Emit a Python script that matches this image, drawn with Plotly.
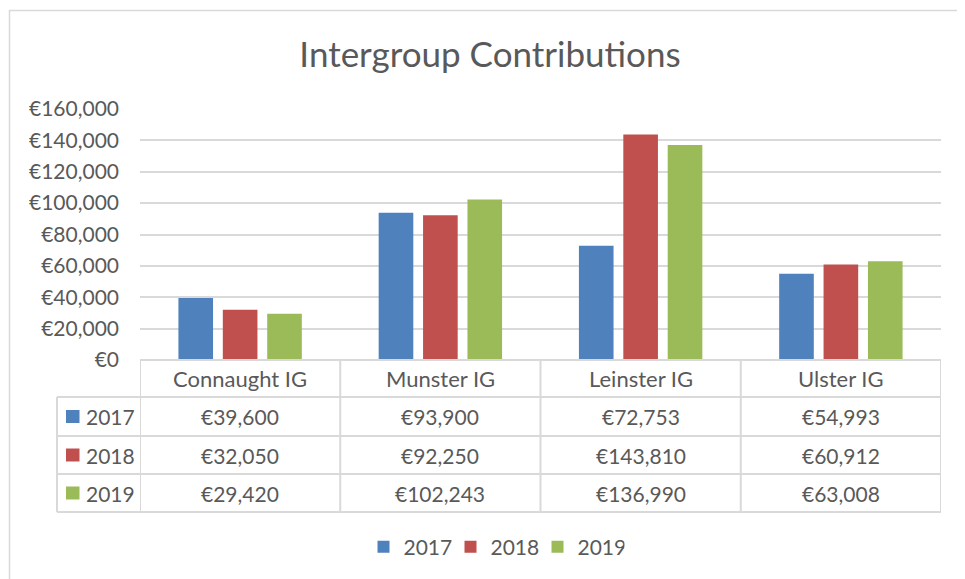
import plotly.graph_objects as go

categories = ["Connaught IG", "Munster IG", "Leinster IG", "Ulster IG"]
years = ["2017", "2018", "2019"]
values_2017 = [39600, 93900, 72753, 54993]
values_2018 = [32050, 92250, 143810, 60912]
values_2019 = [29420, 102243, 136990, 63008]
tick_values = [0, 20000, 40000, 60000, 80000, 100000, 120000, 140000, 160000]

series = [values_2017, values_2018, values_2019]
colors = ["#4f81bd", "#c0504d", "#9bbb59"]
text_color = "#595959"
grid_color = "#d9d9d9"
font_family = "Lato, Carlito, Calibri, sans-serif"

# the page puts the figure 8px in from the window corner, so the figure is
# 8px smaller and every screen position below is shifted by that amount
OFF = 8
W, H = 965 - OFF, 579 - OFF
# plot area in screen pixels
L, R, T, B = 140, 941, 109, 360


def px(x):
    return (x - L) / (R - L)


def py(y):
    return (B - y) / (B - T)


fig = go.Figure()
for year, vals, col in zip(years, series, colors):
    fig.add_trace(go.Bar(x=categories, y=vals, name=year, marker=dict(color=col, line=dict(width=0))))

shapes = []
annotations = []

# outer chart border
shapes.append(dict(type="rect", xref="paper", yref="paper",
                   x0=px(9.5), x1=px(990), y0=py(620), y1=py(10.5),
                   line=dict(color=grid_color, width=1.5), layer="below"))

# data table below the axis
row_edges = [360, 397, 436, 474, 512]
line_style = dict(color=grid_color, width=2)
# header row (category names) spans only the category columns
shapes.append(dict(type="line", xref="x", yref="paper", x0=-0.5, x1=len(categories) - 0.5,
                   y0=py(row_edges[0]), y1=py(row_edges[0]), line=line_style))
for yy in row_edges[1:]:
    shapes.append(dict(type="line", xref="paper", yref="paper", x0=px(57), x1=1,
                       y0=py(yy), y1=py(yy), line=line_style))
for i in range(len(categories) + 1):
    shapes.append(dict(type="line", xref="x", yref="paper", x0=i - 0.5, x1=i - 0.5,
                       y0=py(row_edges[0]), y1=py(row_edges[-1]), line=line_style))
shapes.append(dict(type="line", xref="paper", yref="paper", x0=px(57), x1=px(57),
                   y0=py(row_edges[1]), y1=py(row_edges[-1]), line=line_style))

table_font = dict(family=font_family, size=21, color=text_color)
header_font = dict(family=font_family, size=22, color=text_color)
for cat in categories:
    annotations.append(dict(x=cat, xref="x", yref="paper",
                            y=py((row_edges[0] + row_edges[1]) / 2), text=cat,
                            showarrow=False, font=header_font, yanchor="middle"))
for r, (year, vals, col) in enumerate(zip(years, series, colors)):
    yc = py((row_edges[r + 1] + row_edges[r + 2]) / 2)
    shapes.append(dict(type="rect", xref="paper", yref="paper", x0=px(66), x1=px(79.5),
                       y0=yc - 6.5 / (B - T), y1=yc + 6.5 / (B - T),
                       fillcolor=col, line=dict(width=0)))
    annotations.append(dict(x=px(84), xref="paper", yref="paper", y=yc, text=year,
                            showarrow=False, font=table_font, xanchor="left", yanchor="middle"))
    for cat, v in zip(categories, vals):
        annotations.append(dict(x=cat, xref="x", yref="paper", y=yc, text=f"€{v:,}",
                                showarrow=False, font=table_font, yanchor="middle"))

fig.update_layout(
    width=W, height=H,
    margin=dict(l=L - OFF, r=965 - R, t=T - OFF, b=579 - B),
    paper_bgcolor="white", plot_bgcolor="white",
    font=dict(family=font_family, color=text_color),
    title=dict(text="Intergroup Contributions", x=(490 - OFF) / W, xanchor="center",
               y=1 - (55 - OFF) / H, yanchor="middle",
               font=dict(family=font_family, size=35, color=text_color)),
    barmode="group", bargap=0.335, bargroupgap=0.22,
    xaxis=dict(showticklabels=False, showgrid=False, showline=False, ticks="",
               range=[-0.5, len(categories) - 0.5]),
    yaxis=dict(range=[0, 160000], tickvals=tick_values,
               ticktext=[f"€{t:,}" for t in tick_values],
               showgrid=True, gridcolor=grid_color, gridwidth=1.5,
               zeroline=False, showline=False, ticks="", ticklen=0,
               ticklabelstandoff=20,
               tickfont=dict(family=font_family, size=21, color=text_color)),
    legend=dict(orientation="h", x=px(494), xanchor="center", y=py(547), yanchor="middle",
                font=dict(family=font_family, size=21, color=text_color),
                entrywidth=42, entrywidthmode="pixels",
                itemclick=False, traceorder="normal"),
    shapes=shapes, annotations=annotations,
)

fig.write_html("out.html")
